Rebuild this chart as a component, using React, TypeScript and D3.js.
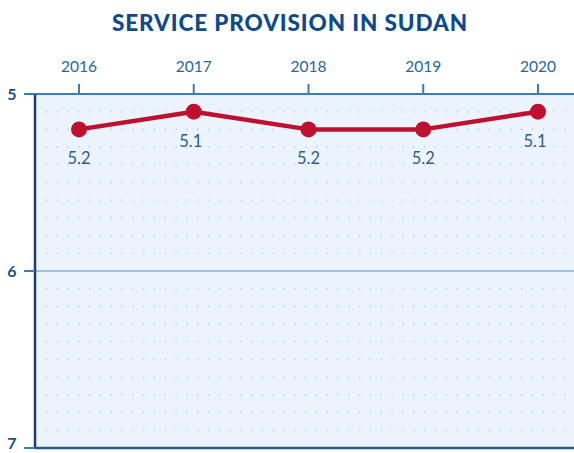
import React from "react";
import * as d3 from "d3";

const years = ["2016", "2017", "2018", "2019", "2020"];
const values = [5.2, 5.1, 5.2, 5.2, 5.1];
const yTicks = [5, 6, 7];
const title = "SERVICE PROVISION IN SUDAN";

export default function App() {
  const W = 574, H = 453;
  const left = 35, top = 94, bottom = 448;
  const x = d3.scalePoint<string>().domain(years).range([79, 538]);
  const y = d3.scaleLinear().domain([5, 7]).range([top, bottom]);
  const line = d3.line<number>().x((_, i) => x(years[i])!).y((d) => y(d));

  const dotRows = d3.range(5.1, 7.0, 0.1).filter((v) => Math.abs(v - 6) > 0.01);
  const dotCols = d3.range(left + 11.5, W, 10.8);

  return (
    <svg width={W} height={H} style={{ position: "absolute", left: 0, top: 0 }}>
      <style>{`body{margin:0}`}</style>
      <rect x={0} y={0} width={W} height={H} fill="#ffffff" />
      <text x={290} y={31} textAnchor="middle" fontFamily="Lato, 'Open Sans', sans-serif" fontWeight={900} fontSize={22.5} fill="#0d4a8a" letterSpacing={0.9}>{title}</text>
      <rect x={left} y={top} width={W - left} height={bottom - top} fill="#ebf3fc" />
      {dotRows.map((r, i) => (
        <g key={i}>
          {dotCols.map((c, j) => (
            <circle key={j} cx={c} cy={y(r)} r={0.8} fill="#b9c6d6" />
          ))}
        </g>
      ))}
      <line x1={left} x2={W} y1={y(6)} y2={y(6)} stroke="#9fc3e4" strokeWidth={2} />
      <line x1={left} x2={W} y1={top} y2={top} stroke="#3d7cb6" strokeWidth={2} />
      <line x1={left} x2={W} y1={bottom} y2={bottom} stroke="#2c5a86" strokeWidth={2.5} />
      <line x1={left} x2={left} y1={top} y2={bottom} stroke="#1f3f66" strokeWidth={2.5} />
      {years.map((yr) => (
        <g key={yr}>
          <line x1={x(yr)} x2={x(yr)} y1={top - 10} y2={top} stroke="#3d7cb6" strokeWidth={2} />
          <text x={x(yr)} y={72} textAnchor="middle" fontFamily="Lato, sans-serif" fontSize={15.5} fill="#2566a0">{yr}</text>
        </g>
      ))}
      {yTicks.map((t) => (
        <g key={t}>
          <line x1={left - 11} x2={left} y1={y(t)} y2={y(t)} stroke="#3d7cb6" strokeWidth={2} />
          <text x={12} y={Math.min(y(t) + 6, H - 4)} textAnchor="middle" fontFamily="Lato, sans-serif" fontWeight={700} fontSize={16} fill="#1b4f86">{t}</text>
        </g>
      ))}
      <path d={line(values)!} fill="none" stroke="#c0102f" strokeWidth={4.5} strokeLinejoin="round" />
      {values.map((v, i) => (
        <g key={i}>
          <circle cx={x(years[i])} cy={y(v)} r={8} fill="#c0102f" />
          <text x={x(years[i])! - (v === 5.1 ? 3 : 0)} y={y(v) + 35} textAnchor="middle" fontFamily="Lato, sans-serif" fontSize={16.5} fill="#2a5f8f">{v}</text>
        </g>
      ))}
    </svg>
  );
}
